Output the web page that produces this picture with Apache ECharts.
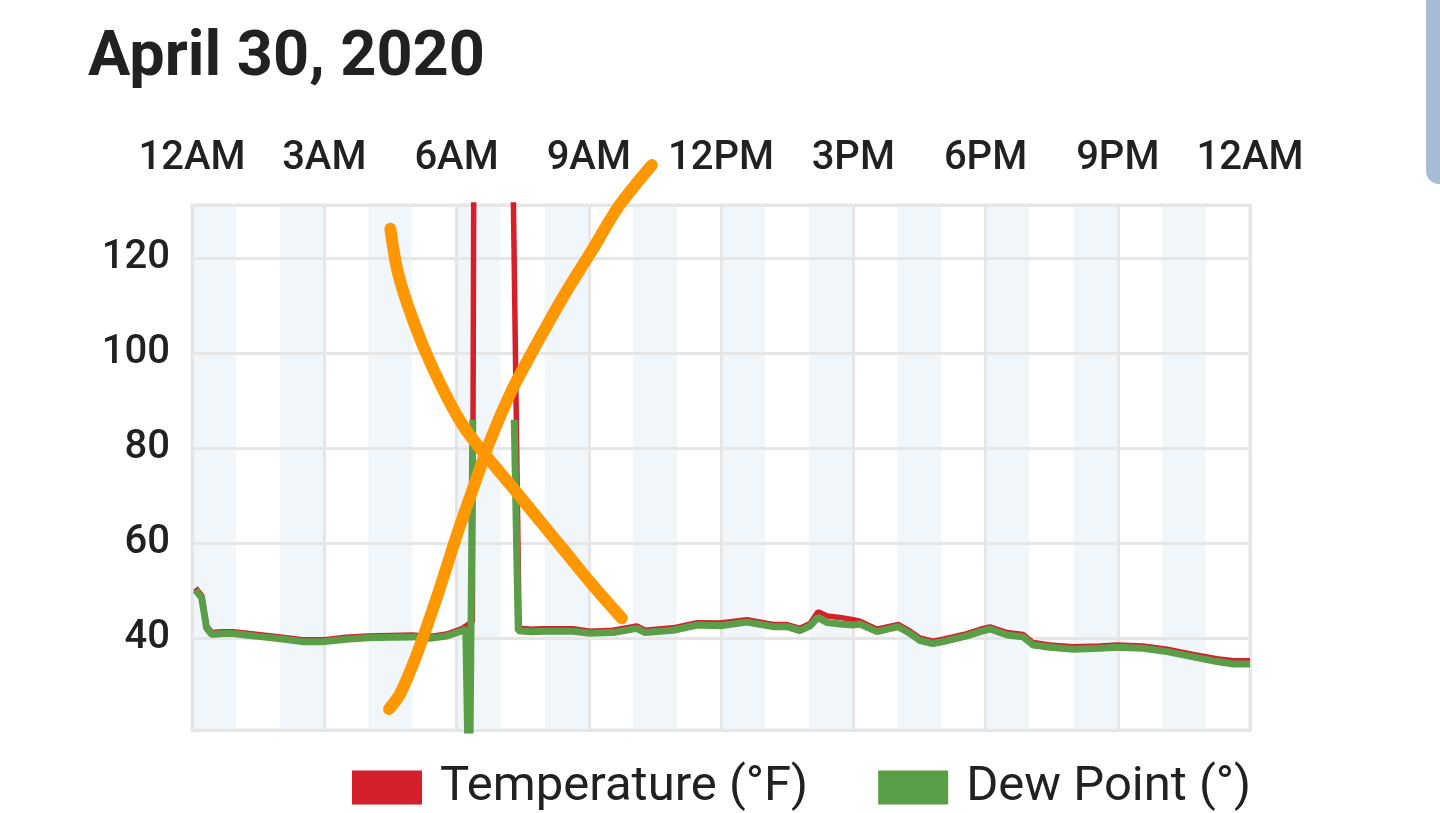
<!DOCTYPE html>
<html>
<head>
<meta charset="utf-8">
<script src="https://cdn.jsdelivr.net/npm/echarts@6/dist/echarts.min.js"></script>
<style>
  html, body { margin: 0; padding: 0; background: #ffffff; }
  #chart { width: 1440px; height: 813px; }
</style>
</head>
<body>
<div id="chart"></div>
<script>
// ---- Data (hours since midnight, values in °F) ----
const titleText = 'April 30, 2020';
const xTickLabels = ['12AM', '3AM', '6AM', '9AM', '12PM', '3PM', '6PM', '9PM', '12AM'];
const yTickLabels = [40, 60, 80, 100, 120];
const seriesNames = ['Temperature (°F)', 'Dew Point (°)'];

const tempHours = [0.08, 0.22, 0.33, 0.45, 0.70, 0.93, 1.30, 1.60, 2.00, 2.50, 3.00, 3.50, 4.00, 4.50, 5.00, 5.40, 5.78, 6.14, 6.21, 6.36, 6.40, 7.25, 7.42, 7.70, 7.95, 8.64, 9.03, 9.55, 10.09, 10.28, 10.91, 11.46, 11.98, 12.59, 13.18, 13.50, 13.79, 14.02, 14.20, 14.41, 14.70, 15.00, 15.15, 15.54, 16.02, 16.29, 16.52, 16.81, 17.04, 17.58, 17.88, 18.10, 18.49, 18.85, 19.08, 19.46, 19.99, 20.60, 20.98, 21.57, 22.12, 22.71, 23.25, 23.62, 24.00];
const tempValues = [50.6, 49.0, 42.6, 41.2, 41.4, 41.4, 41.0, 40.7, 40.3, 39.7, 39.7, 40.2, 40.5, 40.6, 40.7, 40.4, 40.9, 42.1, 42.6, 43.5, 160, 160, 42.1, 41.9, 42.0, 42.0, 41.5, 41.7, 42.6, 41.7, 42.2, 43.3, 43.2, 43.9, 42.9, 42.9, 42.1, 43.1, 45.6, 44.7, 44.4, 43.9, 43.6, 41.9, 42.9, 41.5, 40.0, 39.4, 39.8, 41.0, 41.9, 42.4, 41.2, 40.8, 39.1, 38.6, 38.2, 38.4, 38.6, 38.4, 37.7, 36.6, 35.7, 35.3, 35.3];

const dewHours = [0.08, 0.22, 0.33, 0.45, 0.70, 0.93, 1.30, 1.60, 2.00, 2.50, 3.00, 3.50, 4.00, 4.50, 5.00, 5.40, 5.78, 6.14, 6.21, 6.29, 6.37, 6.80, 7.31, 7.40, 7.70, 7.95, 8.64, 9.03, 9.55, 10.09, 10.28, 10.91, 11.46, 11.98, 12.59, 13.18, 13.50, 13.79, 14.02, 14.20, 14.41, 14.70, 15.00, 15.15, 15.54, 16.02, 16.29, 16.52, 16.81, 17.04, 17.58, 17.88, 18.10, 18.49, 18.85, 19.08, 19.46, 19.99, 20.60, 20.98, 21.57, 22.12, 22.71, 23.25, 23.62, 24.00];
const dewValues = [50.2, 48.5, 42.2, 40.8, 41.0, 41.0, 40.6, 40.3, 39.9, 39.3, 39.3, 39.8, 40.1, 40.2, 40.3, 40.0, 40.5, 41.6, 42.0, 0, 86, null, 86, 41.6, 41.4, 41.5, 41.5, 41.05, 41.2, 42.1, 41.2, 41.7, 42.8, 42.65, 43.4, 42.45, 42.45, 41.6, 42.6, 44.4, 43.3, 43.0, 42.8, 43.0, 41.4, 42.45, 41.0, 39.5, 38.9, 39.3, 40.5, 41.4, 41.95, 40.7, 40.3, 38.6, 38.1, 37.7, 37.9, 38.1, 37.9, 37.2, 36.1, 35.1, 34.6, 34.6];

// hand-drawn orange "X" annotation, in chart coordinates (hours, °F)
const strokeAHours = [4.50, 4.65, 4.89, 5.26, 5.72, 6.18, 6.63, 7.24, 7.85, 8.46, 9.07, 9.75];
const strokeAValues = [126.2, 117.8, 110.2, 101.1, 91.9, 84.3, 78.9, 72.1, 65.2, 58.3, 51.4, 44.2];
const strokeBHours = [4.47, 4.73, 5.11, 5.57, 6.02, 6.48, 6.71, 7.24, 7.85, 8.46, 9.07, 9.67, 10.43];
const strokeBValues = [25.1, 28.5, 36.9, 49.1, 62.1, 74.3, 80.4, 91.9, 102.5, 112.5, 121.6, 130.8, 139.6];

const zip = (xs, ys) => xs.map((x, i) => [x, ys[i]]);

const RED = '#d4202a';
const GREEN = '#5b9e48';
const GRIDC = '#e6e6e6';

const chart = echarts.init(document.getElementById('chart'), null, { renderer: 'canvas' });

chart.setOption({
  animation: false,
  backgroundColor: '#ffffff',
  textStyle: { fontFamily: 'Roboto' },
  title: {
    text: titleText,
    left: 83,
    top: 23,
    textStyle: { fontFamily: 'Roboto', fontSize: 63, fontWeight: 'bold', color: '#212121' }
  },
  legend: {
    data: seriesNames,
    left: 347,
    top: 758,
    icon: 'rect',
    itemWidth: 70,
    itemHeight: 34,
    itemGap: 70,
    textStyle: { fontFamily: 'Roboto', fontSize: 49, color: '#212121', padding: [0, 0, 0, 13] }
  },
  grid: {
    left: 192, right: 190, top: 205, bottom: 83,
    show: true, borderColor: GRIDC, borderWidth: 3, backgroundColor: 'transparent'
  },
  xAxis: [
    {
      type: 'value', min: 0, max: 24, interval: 3, position: 'top', z: 2,
      axisLine: { show: false }, axisTick: { show: false },
      axisLabel: {
        margin: 26, fontSize: 40, fontWeight: 500, color: '#212121', fontFamily: 'Roboto',
        formatter: v => xTickLabels[Math.round(v / 3)]
      },
      splitLine: { show: true, lineStyle: { color: GRIDC, width: 3 } }
    },
    {
      type: 'value', min: 0, max: 24, interval: 1, position: 'bottom', z: 0,
      axisLine: { show: false }, axisTick: { show: false }, axisLabel: { show: false },
      splitLine: { show: false },
      splitArea: { show: true, areaStyle: { color: ['#f1f6fb', 'rgba(255,255,255,0)'] } }
    }
  ],
  yAxis: {
    type: 'value', min: 20.7, max: 131.2, minInterval: 20, maxInterval: 20, z: 2,
    axisLine: { show: false }, axisTick: { show: false },
    axisLabel: {
      margin: 22, fontSize: 40, fontWeight: 500, color: '#212121', fontFamily: 'Roboto',
      formatter: v => (yTickLabels.indexOf(Math.round(v * 100) / 100) >= 0 ? String(v) : '')
    },
    splitLine: { show: true, lineStyle: { color: GRIDC, width: 3 } }
  },
  series: [
    {
      name: seriesNames[0], type: 'line', xAxisIndex: 0, showSymbol: false, symbol: 'none',
      data: zip(tempHours, tempValues), clip: true, z: 3,
      itemStyle: { color: RED },
      lineStyle: { color: RED, width: 5.5 }
    },
    {
      name: seriesNames[1], type: 'line', xAxisIndex: 0, showSymbol: false, symbol: 'none',
      data: zip(dewHours, dewValues), clip: true, z: 4, connectNulls: false,
      itemStyle: { color: GREEN },
      lineStyle: { color: GREEN, width: 7 }
    },
    {
      name: 'strokeA', type: 'line', xAxisIndex: 0, showSymbol: false, symbol: 'none', smooth: 0.3,
      data: zip(strokeAHours, strokeAValues), clip: false, z: 10, silent: true,
      lineStyle: { color: '#ff9800', width: 12, cap: 'round', join: 'round' }
    },
    {
      name: 'strokeB', type: 'line', xAxisIndex: 0, showSymbol: false, symbol: 'none', smooth: 0.3,
      data: zip(strokeBHours, strokeBValues), clip: false, z: 10, silent: true,
      lineStyle: { color: '#ff9800', width: 12, cap: 'round', join: 'round' }
    }
  ],
  graphic: [
    {
      type: 'rect', left: 1426, top: -2, z: 100,
      shape: { width: 20, height: 185, r: [0, 0, 0, 12] },
      style: { fill: '#a4bcd4', stroke: '#b3bcc6', lineWidth: 1 }
    }
  ]
});
</script>
</body>
</html>
